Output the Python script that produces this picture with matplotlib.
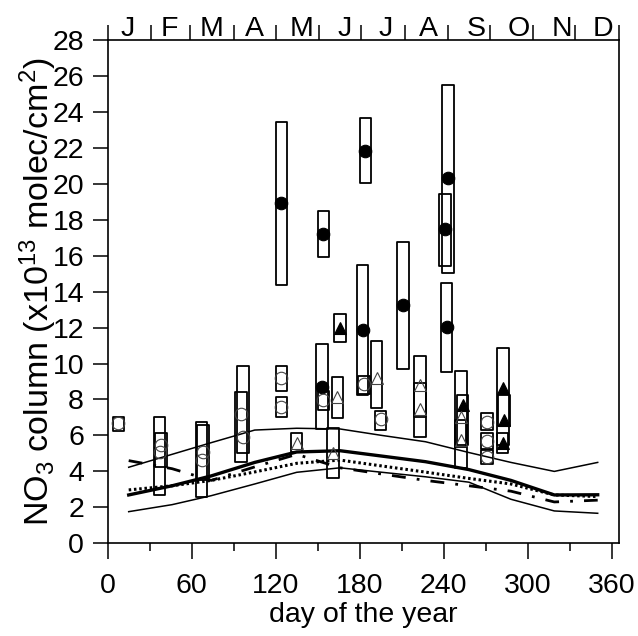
import matplotlib
matplotlib.use('Agg')
import matplotlib.pyplot as plt
from matplotlib.patches import Rectangle

plt.rcParams['font.family'] = ['Liberation Sans', 'DejaVu Sans']
plt.rcParams['mathtext.fontset'] = 'custom'
plt.rcParams['mathtext.rm'] = 'Liberation Sans'
plt.rcParams['mathtext.it'] = 'Liberation Sans:italic'
plt.rcParams['mathtext.bf'] = 'Liberation Sans:bold'
plt.rcParams['lines.scale_dashes'] = False

# ---- model curves ----
model_days = [15, 46, 74, 105, 135, 166, 196, 227, 258, 288, 319, 350]
model_upper = [4.23, 4.95, 5.6, 6.3, 6.4, 6.36, 6.0, 5.65, 5.05, 4.5, 4.0, 4.5]
model_lower = [1.76, 2.15, 2.65, 3.3, 3.95, 4.2, 3.95, 3.7, 3.4, 2.45, 1.8, 1.67]
model_mean = [2.69, 3.2, 3.75, 4.5, 5.08, 5.15, 4.85, 4.54, 4.1, 3.5, 2.69, 2.7]
model_dotted = [2.97, 3.2, 3.5, 3.97, 4.45, 4.63, 4.3, 3.96, 3.61, 3.3, 2.69, 2.6]
model_dashdot = [4.6, 4.15, 3.5, 4.25, 4.95, 4.2, 3.85, 3.5, 3.2, 2.9, 2.3, 2.4]

# ---- observations: box (low-high) with marker value ----
obs_day = [124, 154, 184, 243, 241, 211, 242, 182, 153,
           166, 253.5, 282.5, 283, 282,
           7.6, 37, 38, 67, 68, 95.2, 96.8, 124, 124, 154, 183, 195, 271, 271, 271,
           135, 161, 164, 192, 223, 223, 252.3, 252]
obs_val = [18.92, 17.21, 21.85, 20.31, 17.47, 13.26, 12.02, 11.87, 8.71,
           11.96, 7.7, 8.62, 6.86, 5.56,
           6.68, 5.1, 5.45, 4.64, 5.1, 7.18, 5.93, 9.18, 7.6, 7.97, 8.85, 6.9, 6.77, 5.71, 4.82,
           5.6, 5.0, 8.16, 9.2, 8.81, 7.46, 7.05, 5.75]
obs_low = [14.37, 15.9, 20.03, 15.06, 15.45, 9.7, 9.55, 8.25, 6.34,
           11.18, 5.47, 5.47, 6.53, 5.04,
           6.27, 2.69, 4.26, 2.56, 3.52, 4.54, 5.0, 8.5, 7.01, 7.42, 8.3, 6.3, 6.3, 5.23, 4.4,
           5.1, 3.62, 6.95, 7.55, 5.9, 7.05, 4.21, 5.38]
obs_high = [23.46, 18.49, 23.65, 25.5, 19.44, 16.78, 14.5, 15.49, 11.07,
            12.76, 8.25, 10.85, 8.25, 6.12,
            7.0, 7.01, 6.12, 6.77, 6.6, 8.44, 9.87, 9.88, 8.16, 8.45, 9.3, 7.38, 7.27, 6.15, 5.19,
            6.12, 6.4, 9.27, 11.27, 10.42, 8.94, 9.59, 6.86]
obs_type = ['fc'] * 9 + ['ft'] * 5 + ['oc'] * 15 + ['ot'] * 8

month_edges = [0, 31, 59, 90, 120, 151, 181, 212, 243, 273, 304, 334, 365]
month_letters = ['J', 'F', 'M', 'A', 'M', 'J', 'J', 'A', 'S', 'O', 'N', 'D']
month_label_days = [14.0, 43.8, 74.4, 105.1, 138.6, 169.3, 198.6, 229.3, 262.9, 293.6, 324.3, 353.6]

fig = plt.figure(figsize=(6.38, 6.36), dpi=100)
ax = fig.add_axes([107.7 / 638, 1 - 543.3 / 636, 511.0 / 638, 503.3 / 636])
ax.set_xlim(0, 365)
ax.set_ylim(0, 28)

# model lines
ax.plot(model_days, model_upper, color='black', lw=1.1, zorder=2)
ax.plot(model_days, model_lower, color='black', lw=1.1, zorder=2)
ax.plot(model_days, model_mean, color='black', lw=2.4, zorder=2)
ax.plot(model_days, model_dotted, color='black', lw=2.2, dashes=(1.8, 2.0), zorder=2)
ax.plot(model_days, model_dashdot, color='black', lw=2.0, dashes=(10, 8, 2, 8), zorder=2)

# boxes
box_w = 8.2
for d, lo, hi in zip(obs_day, obs_low, obs_high):
    ax.add_patch(Rectangle((d - box_w / 2, lo), box_w, hi - lo, fill=False,
                           edgecolor='black', lw=1.3, joinstyle='round', zorder=3))

style = {
    'fc': dict(marker='o', mfc='black', mec='black', ms=9, mew=0.8),
    'oc': dict(marker='o', mfc='none', mec='#444444', ms=9, mew=0.8),
    'ft': dict(marker='^', mfc='black', mec='black', ms=9, mew=0.8),
    'ot': dict(marker='^', mfc='none', mec='#444444', ms=9, mew=0.8),
}
for d, v, t in zip(obs_day, obs_val, obs_type):
    ax.plot([d], [v], ls='none', zorder=4, **style[t])

fs = 20.5
ax.set_xticks(range(0, 361, 60))
ax.set_xticks(range(30, 361, 60), minor=True)
ax.set_yticks(range(0, 29, 2))
ax.tick_params(axis='x', which='major', direction='out', length=11.5, width=1.1,
               pad=10, labelsize=fs)
ax.tick_params(axis='x', which='minor', direction='out', length=5.8, width=1.1)
ax.tick_params(axis='y', which='major', direction='out', length=11, width=1.1,
               pad=6, labelsize=fs)
for s in ax.spines.values():
    s.set_linewidth(1.2)

axt = ax.twiny()
axt.set_xlim(0, 365)
axt.set_xticks(month_edges)
axt.set_xticklabels([])
axt.tick_params(axis='x', which='major', direction='out', length=11, width=1.1)
for s in axt.spines.values():
    s.set_visible(False)

for m, d in zip(month_letters, month_label_days):
    ax.text(d, 1 + 3.5 / 503.3, m, transform=ax.get_xaxis_transform(),
            ha='center', va='baseline', fontsize=fs)

ax.set_xlabel('day of the year', fontsize=fs)
ax.xaxis.set_label_coords(0.5, -0.117)
fig.text(38 / 638, 1 - 292 / 636, r'NO$_3$ column (x10$^{13}$ molec/cm$^2$)',
         rotation=90, ha='center', va='center', fontsize=24.5)

fig.savefig('out.png', dpi=100)
